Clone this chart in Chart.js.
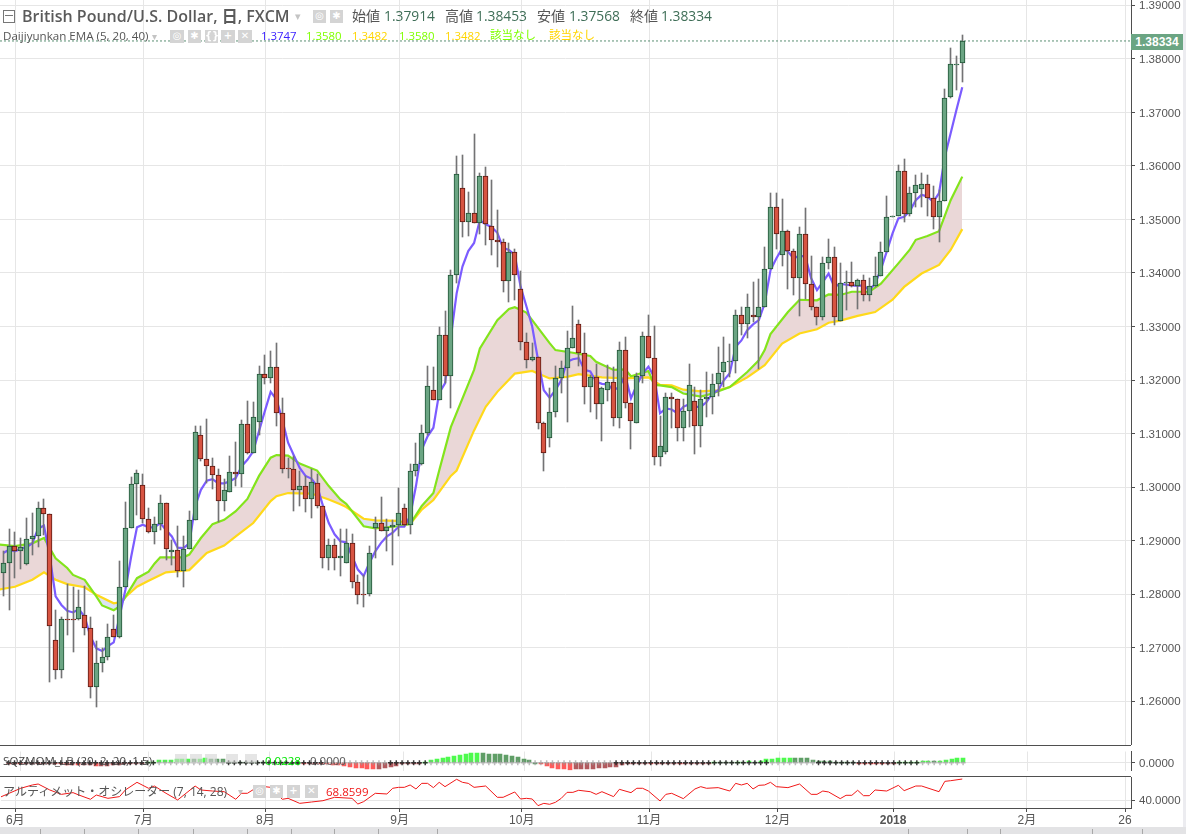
<!DOCTYPE html>
<html>
<head>
<meta charset="utf-8">
<title>GBP/USD</title>
<script src="https://cdn.jsdelivr.net/npm/chart.js@4"></script>
<style>
html, body { margin: 0; padding: 0; background: #fff; }
#wrap { position: relative; width: 1186px; height: 834px; overflow: hidden; font-family: "Open Sans", "Noto Sans CJK JP", sans-serif; }
canvas { position: absolute; left: 0; }
#overlay { position: absolute; left: 0; top: 0; width: 1186px; height: 834px; pointer-events: none; }
.t { position: absolute; white-space: nowrap; line-height: 1; }
.ic { position: absolute; background: #d4d4d4; color: #fff; font: bold 10px/12px "DejaVu Sans", sans-serif; text-align: center; }
.bar { position: absolute; background: #4f4f4f; }
</style>
</head>
<body>
<div id="wrap">
  <canvas id="main" width="1186" height="745" style="top:0"></canvas>
  <canvas id="sqz" width="1186" height="30" style="top:746px"></canvas>
  <canvas id="osc" width="1186" height="50" style="top:777px"></canvas>
  <div id="overlay"></div>
</div>
<script>
// daily candles
const opens = [
  1.2839,1.2858,1.2891,1.2880,1.2856,1.2903,1.2908,1.2961,1.2950,1.2714,
  1.2658,1.2753,1.2753,1.2753,1.2761,1.2736,1.2626,1.2671,1.2682,1.2735,
  1.2721,1.2813,1.2923,1.3006,1.3004,1.2940,1.2917,1.2931,1.2970,1.2879,
  1.2882,1.2844,1.2884,1.2939,1.3098,1.3053,1.3040,1.3023,1.2974,1.2991,
  1.3029,1.3025,1.3118,1.3064,1.3122,1.3212,1.3204,1.3225,1.3139,1.3036,
  1.3034,1.2995,1.3003,1.2978,1.3008,1.2965,1.2867,1.2892,1.2867,1.2859,
  1.2896,1.2823,1.2801,1.2800,1.2923,1.2933,1.2918,1.2926,1.2930,1.2961,
  1.2930,1.3031,1.3044,1.3102,1.3182,1.3162,1.3284,1.3208,1.3396,1.3559,
  1.3496,1.3512,1.3494,1.3582,1.3488,1.3462,1.3458,1.3385,1.3439,1.3370,
  1.3271,1.3237,1.3244,1.3119,1.3092,1.3141,1.3203,1.3222,1.3259,1.3304,
  1.3250,1.3188,1.3205,1.3156,1.3181,1.3197,1.3130,1.3256,1.3158,1.3119,
  1.3207,1.3282,1.3242,1.3057,1.3066,1.3169,1.3164,1.3111,1.3143,1.3160,
  1.3114,1.3165,1.3169,1.3193,1.3216,1.3233,1.3236,1.3322,1.3305,1.3321,
  1.3317,1.3337,1.3408,1.3524,1.3433,1.3479,1.3442,1.3390,1.3472,1.3379,
  1.3337,1.3317,1.3418,1.3429,1.3311,1.3382,1.3384,1.3375,1.3386,1.3358,
  1.3375,1.3395,1.3440,1.3504,1.3507,1.3590,1.3511,1.3549,1.3556,1.3566,
  1.3541,1.3504,1.3534,1.3729,1.3789,1.37914];
const closes = [
  1.2858,1.2891,1.2880,1.2889,1.2903,1.2908,1.2961,1.2950,1.2740,1.2658,
  1.2753,1.2751,1.2751,1.2776,1.2736,1.2626,1.2671,1.2682,1.2720,1.2721,
  1.2813,1.2923,1.3006,1.3026,1.2940,1.2917,1.2931,1.2970,1.2884,1.2882,
  1.2844,1.2884,1.2938,1.3103,1.3053,1.3040,1.3022,1.2974,1.2995,1.3029,
  1.3025,1.3118,1.3064,1.3131,1.3212,1.3204,1.3225,1.3139,1.3034,1.3034,
  1.2995,1.3003,1.2978,1.3010,1.2965,1.2867,1.2892,1.2867,1.2872,1.2896,
  1.2823,1.2799,1.2799,1.2877,1.2933,1.2918,1.2926,1.2930,1.2952,1.2930,
  1.3031,1.3044,1.3102,1.3189,1.3163,1.3284,1.3208,1.3396,1.3584,1.3496,
  1.3512,1.3494,1.3582,1.3492,1.3462,1.3458,1.3385,1.3439,1.3396,1.3271,
  1.3237,1.3244,1.3119,1.3064,1.3141,1.3203,1.3222,1.3259,1.3278,1.3250,
  1.3188,1.3205,1.3156,1.3186,1.3197,1.3130,1.3256,1.3158,1.3124,1.3207,
  1.3282,1.3242,1.3057,1.3076,1.3169,1.3164,1.3111,1.3143,1.3190,1.3115,
  1.3165,1.3169,1.3193,1.3214,1.3233,1.3236,1.3322,1.3305,1.3337,1.3317,
  1.3337,1.3408,1.3524,1.3472,1.3479,1.3442,1.3390,1.3472,1.3380,1.3337,
  1.3317,1.3418,1.3429,1.3317,1.3382,1.3384,1.3375,1.3386,1.3358,1.3375,
  1.3395,1.3440,1.3504,1.3507,1.3590,1.3511,1.3549,1.3564,1.3566,1.3541,
  1.3504,1.3534,1.3727,1.3791,1.3791,1.38334];
const highs = [
  1.2880,1.2922,1.2916,1.2905,1.2942,1.2951,1.2973,1.2978,1.2950,1.2771,
  1.2757,1.2819,1.2814,1.2808,1.2816,1.2758,1.2712,1.2699,1.2745,1.2761,
  1.2862,1.2973,1.3019,1.3032,1.3025,1.2961,1.2944,1.2986,1.2970,1.2902,
  1.2928,1.2908,1.2956,1.3115,1.3115,1.3128,1.3055,1.3034,1.3016,1.3059,
  1.3085,1.3125,1.3160,1.3159,1.3226,1.3246,1.3254,1.3270,1.3166,1.3055,
  1.3058,1.3031,1.3021,1.3033,1.3024,1.2965,1.2904,1.2903,1.2921,1.2921,
  1.2912,1.2835,1.2836,1.2891,1.2945,1.2981,1.2940,1.2938,1.2998,1.2968,
  1.3044,1.3083,1.3117,1.3226,1.3224,1.3300,1.3329,1.3406,1.3619,1.3620,
  1.3552,1.3659,1.3587,1.3598,1.3573,1.3517,1.3463,1.3456,1.3444,1.3404,
  1.3287,1.3269,1.3244,1.3121,1.3186,1.3226,1.3235,1.3292,1.3339,1.3312,
  1.3287,1.3209,1.3230,1.3187,1.3228,1.3225,1.3271,1.3280,1.3158,1.3214,
  1.3290,1.3321,1.3301,1.3132,1.3175,1.3175,1.3164,1.3165,1.3230,1.3187,
  1.3182,1.3215,1.3211,1.3261,1.3280,1.3267,1.3330,1.3337,1.3360,1.3383,
  1.3388,1.3448,1.3549,1.3549,1.3539,1.3481,1.3444,1.3486,1.3521,1.3431,
  1.3337,1.3429,1.3464,1.3448,1.3418,1.3403,1.3420,1.3388,1.3397,1.3390,
  1.3429,1.3458,1.3544,1.3507,1.3602,1.3612,1.3561,1.3583,1.3587,1.3583,
  1.3562,1.3555,1.3744,1.3821,1.3806,1.38453];
const lows = [
  1.2796,1.2771,1.2831,1.2847,1.2855,1.2874,1.2889,1.2911,1.2637,1.2641,
  1.2644,1.2724,1.2693,1.2752,1.2724,1.2606,1.2590,1.2655,1.2677,1.2721,
  1.2718,1.2813,1.2923,1.2948,1.2933,1.2914,1.2894,1.2920,1.2864,1.2855,
  1.2833,1.2814,1.2884,1.2939,1.3049,1.3008,1.2996,1.2935,1.2955,1.2991,
  1.3002,1.3000,1.3061,1.3064,1.3098,1.3192,1.3195,1.3114,1.3026,1.3017,
  1.2955,1.2965,1.2953,1.2942,1.2961,1.2849,1.2845,1.2845,1.2834,1.2859,
  1.2812,1.2781,1.2776,1.2796,1.2868,1.2918,1.2880,1.2854,1.2908,1.2927,
  1.2913,1.3021,1.3042,1.3097,1.3163,1.3162,1.3194,1.3148,1.3382,1.3467,
  1.3470,1.3493,1.3472,1.3452,1.3433,1.3411,1.3365,1.3345,1.3350,1.3256,
  1.3222,1.3236,1.3108,1.3031,1.3075,1.3131,1.3175,1.3122,1.3259,1.3227,
  1.3155,1.3141,1.3127,1.3087,1.3161,1.3114,1.3111,1.3148,1.3071,1.3119,
  1.3194,1.3242,1.3042,1.3039,1.3061,1.3111,1.3086,1.3086,1.3112,1.3061,
  1.3075,1.3131,1.3137,1.3170,1.3187,1.3206,1.3213,1.3284,1.3279,1.3309,
  1.3220,1.3337,1.3407,1.3445,1.3413,1.3370,1.3359,1.3320,1.3352,1.3331,
  1.3303,1.3312,1.3408,1.3303,1.3311,1.3331,1.3374,1.3333,1.3347,1.3347,
  1.3374,1.3395,1.3440,1.3504,1.3506,1.3496,1.3507,1.3524,1.3524,1.3506,
  1.3482,1.3458,1.3534,1.3726,1.3742,1.37568];

// EMA 5 has a value per candle, EMA 20 / 40 are read where the lines bend
const ema5 = [
  1.2877,1.2883,1.2880,1.2885,1.2888,1.2895,1.2923,1.2928,1.2870,1.2796,
  1.2780,1.2769,1.2766,1.2772,1.2758,1.2721,1.2699,1.2694,1.2703,1.2710,
  1.2758,1.2808,1.2870,1.2925,1.2930,1.2925,1.2925,1.2933,1.2920,1.2908,
  1.2887,1.2886,1.2895,1.2964,1.2995,1.3012,1.3015,1.3007,1.3007,1.3011,
  1.3017,1.3039,1.3051,1.3067,1.3105,1.3142,1.3178,1.3164,1.3126,1.3083,
  1.3059,1.3036,1.3021,1.3016,1.3002,1.2965,1.2933,1.2912,1.2899,1.2897,
  1.2871,1.2846,1.2834,1.2859,1.2880,1.2896,1.2908,1.2915,1.2926,1.2926,
  1.2946,1.3002,1.3070,1.3095,1.3111,1.3176,1.3194,1.3280,1.3362,1.3412,
  1.3441,1.3456,1.3499,1.3491,1.3486,1.3475,1.3447,1.3443,1.3434,1.3375,
  1.3338,1.3300,1.3238,1.3181,1.3167,1.3181,1.3200,1.3234,1.3239,1.3241,
  1.3219,1.3216,1.3197,1.3193,1.3192,1.3181,1.3187,1.3209,1.3166,1.3191,
  1.3212,1.3225,1.3206,1.3138,1.3147,1.3145,1.3138,1.3150,1.3155,1.3150,
  1.3150,1.3159,1.3175,1.3181,1.3200,1.3213,1.3262,1.3274,1.3293,1.3304,
  1.3312,1.3343,1.3405,1.3427,1.3446,1.3440,1.3427,1.3433,1.3430,1.3390,
  1.3368,1.3383,1.3399,1.3374,1.3380,1.3378,1.3377,1.3376,1.3377,1.3368,
  1.3380,1.3407,1.3440,1.3474,1.3502,1.3505,1.3516,1.3536,1.3546,1.3543,
  1.3533,1.3549,1.3617,1.3661,1.3705,1.3747];
const ema20Idx = [-1,2,5,7,8,9,11,12,14,16,17,19,20,23,25,26,27,29,31,32,34,36,38,40,42,44,46,47,49,51,54,56,58,59,60,62,64,68,70,72,74,75,77,81,82,85,87,88,90,91,94,95,98,101,102,105,107,108,111,112,113,115,117,120,122,125,128,130,131,132,135,137,140,142,144,146,149,151,154,156,157,159,161,163,165];
const ema20 = [1.2893,1.2890,1.2895,1.2905,1.2886,1.2867,1.2849,1.2836,1.2827,1.2796,1.2779,1.2770,1.2777,1.2830,1.2842,1.2857,1.2869,1.2869,1.2869,1.2874,1.2905,1.2931,1.2939,1.2955,1.2978,1.3021,1.3055,1.3060,1.3059,1.3044,1.3031,1.3002,1.2977,1.2969,1.2955,1.2927,1.2923,1.2927,1.2931,1.2965,1.2989,1.3031,1.3112,1.3219,1.3259,1.3312,1.3333,1.3336,1.3326,1.3312,1.3269,1.3256,1.3251,1.3245,1.3234,1.3219,1.3220,1.3207,1.3217,1.3191,1.3190,1.3187,1.3175,1.3169,1.3175,1.3187,1.3215,1.3237,1.3256,1.3286,1.3327,1.3350,1.3349,1.3360,1.3359,1.3365,1.3365,1.3380,1.3418,1.3444,1.3462,1.3469,1.3478,1.3536,1.3580];
const ema40Idx = [-1,2,5,7,9,11,14,16,19,20,23,25,28,32,35,38,40,43,46,47,49,53,56,58,59,62,64,68,70,72,74,77,78,81,83,85,88,91,94,97,99,103,107,111,113,115,117,120,123,125,128,131,134,137,140,142,144,147,150,153,155,158,161,163,165];
const ema40 = [1.2808,1.2814,1.2827,1.2841,1.2827,1.2819,1.2813,1.2799,1.2783,1.2785,1.2814,1.2825,1.2841,1.2845,1.2877,1.2891,1.2908,1.2933,1.2974,1.2983,1.2989,1.2988,1.2977,1.2968,1.2963,1.2941,1.2938,1.2937,1.2931,1.2958,1.2976,1.3021,1.3031,1.3106,1.3150,1.3178,1.3212,1.3217,1.3203,1.3206,1.3211,1.3205,1.3203,1.3205,1.3191,1.3190,1.3182,1.3179,1.3181,1.3187,1.3205,1.3228,1.3268,1.3287,1.3295,1.3307,1.3311,1.3320,1.3327,1.3350,1.3374,1.3399,1.3415,1.3443,1.3482];

// squeeze momentum histogram, one value per candle
const sqzValues = [
  -.005,-.005,-.006,-.006,-.006,-.006,-.005,-.005,-.006,-.008,
  -.010,-.010,-.012,-.012,-.012,-.014,-.014,-.014,-.013,-.012,
  -.008,-.006,-.004,-.002,.002,.003,.012,.014,.015,.016,
  .017,.018,.018,.019,.020,.019,.018,.018,.004,.003,
  .002,.002,.002,.002,.002,.002,.001,.001,.001,0,
  0,-.001,-.001,-.001,-.002,-.007,-.010,-.013,-.016,-.020,
  -.024,-.026,-.028,-.031,-.029,-.026,-.022,-.015,-.008,-.006,
  -.004,-.002,.001,.011,.017,.024,.027,.030,.038,.042,
  .044,.0445,.044,.043,.042,.041,.036,.033,.027,.017,
  .011,0,-.006,-.017,-.024,-.029,-.031,-.033,-.032,-.031,
  -.030,-.028,-.027,-.026,-.021,-.018,-.011,-.008,-.005,-.002,
  -.001,-.002,-.002,-.002,-.001,-.001,-.002,-.002,-.002,-.001,
  -.001,-.001,.001,.001,.001,.001,.002,.002,.006,.005,
  .010,.016,.019,.020,.021,.023,.020,.020,.020,.014,
  .009,.008,.006,.004,.003,.002,.001,-.001,-.002,-.003,
  -.005,-.007,-.006,-.003,.001,.003,.004,.005,.007,.010,
  .008,.010,.012,.016,.020,.0228];
const squeezeRanges = [[0,25],[38,54],[66,72],[105,131],[140,157]];

// ultimate oscillator
const oscIdx = [-1,1,3,5,6,8,10,12,13,15,16,18,20,21,23,25,26,28,30,33,34,36,38,40,41,42,44,46,48,49,51,53,55,57,60,61,62,64,66,67,68,69,70,71,72,73,74,75,76,78,79,80,81,83,85,86,88,89,90,91,92,93,94,95,96,97,98,99,101,102,103,105,106,108,109,110,111,113,114,115,117,119,120,121,123,125,126,127,128,129,130,131,132,133,135,137,139,140,141,142,144,145,146,147,148,149,150,152,154,155,157,158,161,162,163,165];
const oscVals = [42.7,49.5,56.3,60.8,62.1,54.0,48.1,50.4,47.2,41.4,47.2,42.7,45.0,54.0,64.4,56.3,59.4,49.5,40.5,59.4,54.0,52.6,51.7,41.4,49.5,49.5,59.4,57.6,41.4,42.7,35.9,37.7,39.5,44.1,42.7,35.0,38.2,49.5,48.6,56.3,57.6,57.6,60.8,55.4,63.0,63.0,57.2,64.4,58.5,68.5,64.4,63.0,57.6,59.4,44.1,44.1,51.3,41.8,42.7,41.8,32.8,35.9,34.6,37.3,42.7,50.8,50.8,53.6,51.7,48.1,51.7,45.0,54.9,50.4,56.3,56.3,52.6,39.1,48.1,49.5,42.3,55.4,58.5,56.3,57.2,52.6,63.0,60.8,63.0,55.4,60.3,60.8,64.4,58.5,57.2,62.1,48.1,48.1,52.6,51.3,42.3,46.8,46.8,53.6,46.3,46.3,54.0,52.6,60.3,53.1,59.4,59.4,51.7,65.7,66.6,68.86];

// axes
const priceTicks = [1.39,1.38,1.37,1.36,1.35,1.34,1.33,1.32,1.31,1.30,1.29,1.28,1.27,1.26];
const timeTicks = [2.06,24.1,45.1,68.2,89.2,111.1,133.2,153.1,176.1,193];
const timeLabels = ['6月','7月','8月','9月','10月','11月','12月','2018','2月','26'];
const lastClose = 1.38334;

const XMIN = -0.568, XMAX = 194.03;
const UP = '#6ba583', DOWN = '#d75442', UP_EDGE = '#225437', DOWN_EDGE = '#5b1a13', WICK = '#737375';
const GRID = '#e6e6e6', AXIS = '#4f4f4f', LABEL = '#555';
const AXIS_FONT = { family: '"Liberation Sans", "Noto Sans CJK JP", sans-serif', size: 11.5 };

Chart.defaults.animation = false;
Chart.defaults.plugins.legend.display = false;
Chart.defaults.plugins.tooltip.enabled = false;
Chart.defaults.devicePixelRatio = 1;

// snap the bars on whole pixels, so they stay crisp like the original
const snapBars = {
  id: 'snapBars',
  beforeDatasetsDraw(chart) {
    chart.getSortedVisibleDatasetMetas().forEach(function (meta) {
      if (meta.type !== 'bar') return;
      meta.data.forEach(function (el) {
        el.x = el.width % 2 ? Math.floor(el.x) + 0.5 : Math.round(el.x);
        el.y = Math.round(el.y);
        el.base = Math.round(el.base);
        if (el.y === el.base) el.base += 1;
      });
    });
  }
};

function xScale(showLabels) {
  return {
    type: 'linear', min: XMIN, max: XMAX, offset: false,
    grid: { color: GRID, offset: false, drawTicks: showLabels, tickLength: 4, tickColor: AXIS },
    border: { display: false },
    afterBuildTicks: function (s) { s.ticks = timeTicks.map(function (v) { return { value: v }; }); },
    ticks: {
      display: showLabels, autoSkip: false, maxRotation: 0, padding: 1, color: LABEL,
      font: function (ctx) {
        return Object.assign({}, AXIS_FONT, { size: 12, weight: ctx.tick && ctx.tick.value === 153.1 ? 'bold' : 'normal' });
      },
      callback: function (v) { return timeLabels[timeTicks.indexOf(v)]; }
    },
    afterFit: function (s) {
      s.height = showLabels ? 19 : 0;
      s.paddingLeft = 0;
      s.paddingRight = 0;
    }
  };
}

function yScale(min, max, values, digits) {
  return {
    position: 'right', min: min, max: max, beginAtZero: false,
    grid: { color: GRID, tickLength: 4, tickColor: AXIS },
    border: { display: true, color: AXIS, width: 1 },
    afterBuildTicks: function (s) { s.ticks = values.map(function (v) { return { value: v }; }); },
    ticks: {
      color: LABEL, padding: 4, font: AXIS_FONT, autoSkip: false, labelOffset: 1,
      callback: function (v) { return v.toFixed(digits); }
    },
    afterFit: function (s) {
      s.width = 55;
      s.paddingTop = 0;
      s.paddingBottom = 0;
    }
  };
}

function pairs(xs, ys) {
  return xs.map(function (x, i) { return { x: x, y: ys[i] }; });
}

const idx = opens.map(function (v, i) { return i; });
const isUp = idx.map(function (i) { return closes[i] >= opens[i]; });

new Chart(document.getElementById('main'), {
  type: 'bar',
  data: {
    datasets: [
      {
        data: idx.map(function (i) { return { x: i, y: [opens[i], closes[i]] }; }),
        backgroundColor: isUp.map(function (u) { return u ? UP : DOWN; }),
        borderColor: isUp.map(function (u) { return u ? UP_EDGE : DOWN_EDGE; }),
        borderWidth: 1, borderSkipped: false, barThickness: 5, grouped: false, order: 0
      },
      {
        data: idx.map(function (i) { return { x: i, y: [lows[i], highs[i]] }; }),
        backgroundColor: WICK, barThickness: 1, grouped: false, order: 1
      },
      {
        type: 'line', data: pairs(idx, ema5), borderColor: '#7b5cff', borderWidth: 2.2,
        pointRadius: 0, tension: 0, order: 2
      },
      {
        type: 'line', data: pairs(ema20Idx, ema20), borderColor: '#83e41c', borderWidth: 2.2,
        pointRadius: 0, tension: 0, order: 3,
        fill: { target: '+1', above: '#ead7d7', below: '#dbe4f3' }
      },
      {
        type: 'line', data: pairs(ema40Idx, ema40), borderColor: '#ffd91a', borderWidth: 2.2,
        pointRadius: 0, tension: 0, order: 4
      },
      {
        type: 'line', data: pairs([XMIN, XMAX], [lastClose, lastClose]), borderColor: '#5b8f73', borderWidth: 1,
        borderDash: [2, 2], pointRadius: 0, order: 5
      }
    ]
  },
  options: {
    responsive: false,
    layout: { padding: 0 },
    plugins: { filler: { drawTime: 'beforeDatasetsDraw' } },
    scales: { x: xScale(false), y: yScale(1.25184, 1.39099, priceTicks, 5) }
  },
  plugins: [snapBars]
});

// momentum colours depend on the direction against the previous bar
const sqzColors = sqzValues.map(function (v, i) {
  const prev = i ? sqzValues[i - 1] : 0;
  if (v >= 0) return v > prev ? '#4dfb4d' : '#5f9e66';
  return v < prev ? '#ff5a5a' : '#b25a5e';
});
const crossColors = idx.map(function (i) {
  const on = squeezeRanges.some(function (r) { return i >= r[0] && i <= r[1]; });
  return on ? 'rgba(35,35,35,0.9)' : 'rgba(150,150,150,0.65)';
});

new Chart(document.getElementById('sqz'), {
  type: 'bar',
  data: {
    datasets: [
      {
        type: 'line', data: idx.map(function (i) { return { x: i, y: 0 }; }), showLine: false,
        pointStyle: 'cross', pointRadius: 2.5, borderWidth: 1.5,
        pointBorderColor: crossColors, order: 0
      },
      {
        data: pairs(idx, sqzValues), backgroundColor: sqzColors,
        barThickness: 4, grouped: false, order: 1
      }
    ]
  },
  options: {
    responsive: false,
    layout: { padding: 0 },
    scales: { x: xScale(false), y: yScale(-0.0369, 0.0531, [0], 4) }
  },
  plugins: [snapBars]
});

new Chart(document.getElementById('osc'), {
  type: 'line',
  data: {
    datasets: [
      { data: pairs(oscIdx, oscVals), borderColor: '#f01818', borderWidth: 1, pointRadius: 0, tension: 0 }
    ]
  },
  options: {
    responsive: false,
    layout: { padding: 0 },
    scales: { x: xScale(true), y: yScale(29.6, 71.6, [40], 4) }
  }
});

// legends and chrome on top of the canvases
const overlay = document.getElementById('overlay');
function text(str, x, y, size, color, extra) {
  const el = document.createElement('span');
  el.className = 't';
  el.textContent = str;
  el.style.cssText = 'left:' + x + 'px;top:' + y + 'px;font-size:' + size + 'px;color:' + color + ';' + (extra || '');
  overlay.appendChild(el);
}
function icon(x, y, w, h, glyph, extra) {
  const el = document.createElement('span');
  el.className = 'ic';
  el.textContent = glyph;
  el.style.cssText = 'left:' + x + 'px;top:' + y + 'px;width:' + w + 'px;height:' + h + 'px;' + (extra || '');
  overlay.appendChild(el);
}
function bar(x, y, w, h, color) {
  const el = document.createElement('div');
  el.className = 'bar';
  el.style.cssText = 'left:' + x + 'px;top:' + y + 'px;width:' + w + 'px;height:' + h + 'px;' + (color ? 'background:' + color + ';' : '');
  overlay.appendChild(el);
}

// pane separators, toolbar, side strip
bar(0, 745, 1131, 1);
bar(0, 776, 1131, 1);
bar(0, 808, 1131, 1);
bar(0, 777, 1, 31, '#fff');
bar(0, 827, 1186, 7, '#e3e3e5');
[40, 84, 138, 193, 247, 291, 334, 378, 437, 908, 967, 1000, 1092, 1142].forEach(function (x) { bar(x, 829, 1, 5, '#a8a8a8'); });
bar(1183, 0, 3, 827, '#ececf0');

// last price badge
const badge = document.createElement('div');
badge.textContent = lastClose.toFixed(5);
badge.style.cssText = 'position:absolute;left:1131px;top:34px;width:52px;height:16px;background:#6ba583;color:#fff;font:bold 12px/16px "Liberation Sans",sans-serif;text-align:center;';
overlay.appendChild(badge);

// header row
const box = document.createElement('div');
box.style.cssText = 'position:absolute;left:3px;top:10px;width:10px;height:11px;border:1px solid #777;';
overlay.appendChild(box);
bar(5, 15, 8, 1, '#777');
text('British Pound/U.S. Dollar, 日, FXCM', 22, 8, 16, '#5a5a5a', 'font-weight:600;');
text('▾', 295, 10, 11, '#c4c4c4');
icon(313, 10, 13, 13, '◎');
icon(330, 10, 13, 13, '✱');
const OHLC_GREEN = '#3f6e57';
text('始値', 352, 9, 14, '#555');
text('1.37914', 384, 9, 13.8, OHLC_GREEN);
text('高値', 445, 9, 14, '#555');
text('1.38453', 476, 9, 13.8, OHLC_GREEN);
text('安値', 537, 9, 14, '#555');
text('1.37568', 569, 9, 13.8, OHLC_GREEN);
text('終値', 630, 9, 14, '#555');
text('1.38334', 661, 9, 13.8, OHLC_GREEN);

// EMA legend row
text('Daijiyunkan EMA (5, 20, 40)', 3, 30, 11.6, '#555');
text('▾', 152, 31, 10, '#c4c4c4');
icon(170, 30, 14, 13, '◎');
icon(188, 30, 13, 13, '✱');
icon(205, 30, 13, 13, '{}');
icon(221, 30, 14, 13, '+');
icon(238, 30, 14, 13, '✕');
text('1.3747', 261, 30, 11.4, '#3c22ff');
text('1.3580', 306, 30, 11.4, '#7fff00');
text('1.3482', 352, 30, 11.4, '#ffd500');
text('1.3580', 399, 30, 11.4, '#7fff00');
text('1.3482', 445, 30, 11.4, '#ffd500');
text('該当なし', 490, 29, 11.5, '#7fff00');
text('該当なし', 549, 29, 11.5, '#ffd500');

// squeeze legend
text('SQZMOM_LB (20, 2, 20, 1.5)', 3, 755, 11.5, '#444', 'letter-spacing:.1px;');
icon(175, 754, 12, 9, '', 'opacity:.6;');
icon(190, 754, 12, 9, '', 'opacity:.6;');
icon(205, 754, 12, 9, '', 'opacity:.6;');
icon(226, 754, 12, 9, '', 'opacity:.6;');
icon(245, 754, 12, 9, '', 'opacity:.6;');
text('0.0228', 265, 755, 11.5, '#00e600');
text('0.0000', 310, 755, 11.5, '#555');

// oscillator legend
text('アルティメット・オシレーター (7, 14, 28)', 3, 786, 12, '#555');
text('▾', 238, 786, 10, '#c4c4c4');
icon(253, 785, 13, 13, '◎');
icon(270, 785, 13, 13, '✱');
icon(287, 785, 13, 13, '+');
icon(305, 785, 13, 13, '✕');
text('68.8599', 326, 786, 11.5, '#f01818');
</script>
</body>
</html>
